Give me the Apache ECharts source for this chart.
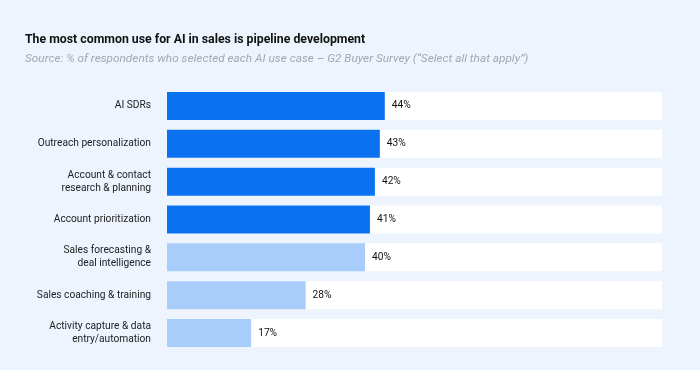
<!DOCTYPE html>
<html><head><meta charset="utf-8">
<script src="https://cdn.jsdelivr.net/npm/echarts@6/dist/echarts.min.js"></script>
<style>html,body{margin:0;padding:0;background:#edf4fe;}#c{width:700px;height:370px;}</style>
</head><body><div id="c"></div>
<script>
const categories = [
  "AI SDRs",
  "Outreach personalization",
  "Account & contact\nresearch & planning",
  "Account prioritization",
  "Sales forecasting &\ndeal intelligence",
  "Sales coaching & training",
  "Activity capture & data\nentry/automation"
];
const values = [44, 43, 42, 41, 40, 28, 17];
const highlighted = [true, true, true, true, false, false, false];
const titleText = "The most common use for AI in sales is pipeline development";
const subtitleText = "Source: % of respondents who selected each AI use case – G2 Buyer Survey (\u201cSelect all that apply\u201d)";

const chart = echarts.init(document.getElementById('c'));
chart.setOption({
  backgroundColor: '#edf4fe',
  animation: false,
  title: {
    text: titleText,
    subtext: subtitleText,
    left: 20, top: 29,
    itemGap: 7,
    textStyle: { fontFamily: 'Roboto', fontSize: 12.3, fontWeight: 'bold', color: '#111' },
    subtextStyle: { fontFamily: 'Roboto', fontSize: 11.8, fontStyle: 'italic', color: '#a3a8b0' }
  },
  grid: { left: 167, right: 38, top: 87, bottom: 18 },
  xAxis: { type: 'value', min: 0, max: 100, show: false },
  yAxis: {
    type: 'category', data: categories, inverse: true,
    axisLine: { show: false }, axisTick: { show: false },
    axisLabel: { fontFamily: 'Roboto', fontSize: 10.2, color: '#222', margin: 16, align: 'right', lineHeight: 13 }
  },
  series: [{
    type: 'bar',
    barWidth: 28,
    showBackground: true,
    backgroundStyle: { color: '#ffffff' },
    data: values.map((v, i) => ({ value: v, itemStyle: { color: highlighted[i] ? '#0a72f0' : '#a8cdfb' } })),
    label: {
      show: true, position: 'right', distance: 7,
      formatter: '{c}%',
      fontFamily: 'Roboto', fontSize: 10.2, color: '#111'
    }
  }]
});
</script></body></html>
